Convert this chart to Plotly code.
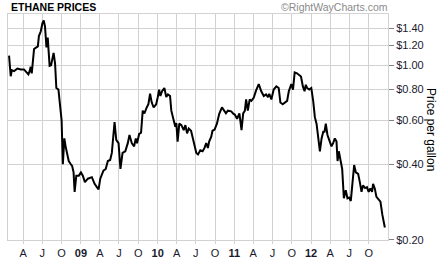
import plotly.graph_objects as go

dates = [
    "2008-01-25", "2008-02-02", "2008-02-07", "2008-02-18", "2008-03-05", "2008-03-21",
    "2008-04-05", "2008-04-13", "2008-04-26", "2008-05-02", "2008-05-07", "2008-05-12",
    "2008-05-23", "2008-06-03", "2008-06-10", "2008-06-15", "2008-06-24", "2008-07-02",
    "2008-07-08", "2008-07-14", "2008-07-21", "2008-07-27", "2008-07-30", "2008-08-05",
    "2008-08-12", "2008-08-18", "2008-08-24", "2008-08-31", "2008-09-06", "2008-09-16",
    "2008-09-23", "2008-10-01", "2008-10-07", "2008-10-14", "2008-10-20", "2008-10-28",
    "2008-11-04", "2008-11-14", "2008-11-20", "2008-11-27", "2008-12-02", "2008-12-10",
    "2008-12-22", "2009-01-01", "2009-01-10", "2009-01-20", "2009-02-03", "2009-02-22",
    "2009-03-07", "2009-03-18", "2009-03-26", "2009-04-03", "2009-04-18", "2009-04-29",
    "2009-05-09", "2009-05-20", "2009-05-28", "2009-06-10", "2009-06-18", "2009-06-29",
    "2009-07-08", "2009-07-18", "2009-07-31", "2009-08-12", "2009-08-20", "2009-08-31",
    "2009-09-11", "2009-09-19", "2009-09-25", "2009-10-05", "2009-10-14", "2009-10-22",
    "2009-10-30", "2009-11-10", "2009-11-18", "2009-11-26", "2009-12-04", "2009-12-13",
    "2009-12-25", "2010-01-01", "2010-01-08", "2010-01-14", "2010-01-22", "2010-02-02",
    "2010-02-11", "2010-02-19", "2010-03-01", "2010-03-07", "2010-03-18", "2010-03-26",
    "2010-03-31", "2010-04-06", "2010-04-14", "2010-04-24", "2010-05-05", "2010-05-13",
    "2010-05-21", "2010-05-29", "2010-06-09", "2010-06-17", "2010-06-26", "2010-07-04",
    "2010-07-12", "2010-07-23", "2010-08-03", "2010-08-12", "2010-08-20", "2010-08-28",
    "2010-09-03", "2010-09-13", "2010-09-19", "2010-09-29", "2010-10-10", "2010-10-21",
    "2010-11-03", "2010-11-14", "2010-11-22", "2010-12-01", "2010-12-17", "2010-12-28",
    "2011-01-03", "2011-01-14", "2011-01-25", "2011-02-04", "2011-02-12", "2011-02-20",
    "2011-02-26", "2011-03-06", "2011-03-15", "2011-03-23", "2011-04-03", "2011-04-14",
    "2011-04-27", "2011-05-09", "2011-05-21", "2011-06-01", "2011-06-10", "2011-06-16",
    "2011-06-26", "2011-07-07", "2011-07-20", "2011-07-31", "2011-08-08", "2011-08-19",
    "2011-08-31", "2011-09-09", "2011-09-17", "2011-09-29", "2011-10-07", "2011-10-15",
    "2011-10-26", "2011-11-06", "2011-11-14", "2011-11-23", "2011-12-01", "2011-12-07",
    "2011-12-13", "2011-12-23", "2012-01-02", "2012-01-11", "2012-01-19", "2012-01-27",
    "2012-02-04", "2012-02-12", "2012-02-20", "2012-02-28", "2012-03-05", "2012-03-11",
    "2012-03-19", "2012-03-27", "2012-04-07", "2012-04-15", "2012-04-23", "2012-05-01",
    "2012-05-06", "2012-05-12", "2012-05-20", "2012-05-28", "2012-06-05", "2012-06-14",
    "2012-06-22", "2012-06-30", "2012-07-08", "2012-07-16", "2012-07-24", "2012-08-01",
    "2012-08-12", "2012-08-20", "2012-08-28", "2012-09-04", "2012-09-14", "2012-09-23",
    "2012-10-01", "2012-10-09", "2012-10-17", "2012-10-22", "2012-10-30", "2012-11-07",
    "2012-11-16", "2012-11-26", "2012-12-05", "2012-12-11", "2012-12-17",
]

prices = [
    1.092, 0.902, 0.954, 0.946, 0.969, 0.961,
    0.961, 0.941, 0.918, 0.946, 0.984, 0.927,
    1.160, 1.177, 1.188, 1.307, 1.366, 1.474,
    1.508, 1.429, 1.177, 1.288, 1.195, 0.993,
    0.998, 1.060, 1.119, 1.014, 0.810, 0.798,
    0.708, 0.601, 0.401, 0.509, 0.473, 0.439,
    0.413, 0.401, 0.395, 0.372, 0.311, 0.361,
    0.361, 0.372, 0.361, 0.340, 0.351, 0.356,
    0.335, 0.325, 0.318, 0.351, 0.378, 0.384,
    0.413, 0.417, 0.445, 0.592, 0.502, 0.487,
    0.384, 0.445, 0.452, 0.487, 0.525, 0.487,
    0.473, 0.509, 0.487, 0.530, 0.536, 0.657,
    0.641, 0.677, 0.697, 0.768, 0.708, 0.677,
    0.697, 0.740, 0.798, 0.752, 0.786, 0.810,
    0.745, 0.763, 0.752, 0.657, 0.592, 0.566,
    0.586, 0.494, 0.583, 0.575, 0.549, 0.575,
    0.533, 0.557, 0.546, 0.509, 0.473, 0.445,
    0.439, 0.456, 0.452, 0.466, 0.487, 0.466,
    0.494, 0.517, 0.546, 0.552, 0.583, 0.638,
    0.677, 0.657, 0.641, 0.657, 0.653, 0.638,
    0.634, 0.610, 0.641, 0.549, 0.641, 0.657,
    0.729, 0.657, 0.729, 0.719, 0.740, 0.790,
    0.839, 0.786, 0.752, 0.763, 0.745, 0.768,
    0.729, 0.798, 0.822, 0.810, 0.708, 0.697,
    0.708, 0.719, 0.786, 0.839, 0.798, 0.935,
    0.927, 0.913, 0.900, 0.822, 0.786, 0.834,
    0.810, 0.798, 0.810, 0.719, 0.619, 0.583,
    0.517, 0.452, 0.509, 0.541, 0.541, 0.583,
    0.525, 0.502, 0.473, 0.487, 0.509, 0.494,
    0.413, 0.452, 0.420, 0.384, 0.293, 0.316,
    0.293, 0.295, 0.286, 0.340, 0.398, 0.372,
    0.367, 0.340, 0.311, 0.330, 0.322, 0.325,
    0.311, 0.321, 0.311, 0.335, 0.321, 0.297,
    0.291, 0.284, 0.252, 0.234, 0.224,
]

x_tick_dates = [
    "2008-04-01", "2008-07-01", "2008-10-01", "2009-01-01",
    "2009-04-01", "2009-07-01", "2009-10-01", "2010-01-01",
    "2010-04-01", "2010-07-01", "2010-10-01", "2011-01-01",
    "2011-04-01", "2011-07-01", "2011-10-01", "2012-01-01",
    "2012-04-01", "2012-07-01", "2012-10-01",
]
x_tick_labels = [
    "A", "J", "O", "<b>09</b>", "A", "J", "O", "<b>10</b>",
    "A", "J", "O", "<b>11</b>", "A", "J", "O", "<b>12</b>",
    "A", "J", "O",
]
y_tick_values = [0.2, 0.4, 0.6, 0.8, 1.0, 1.2, 1.4]
y_tick_labels = ["$0.20", "$0.40", "$0.60", "$0.80", "$1.00", "$1.20", "$1.40"]

grid = "#d2d2d2"
font = "Liberation Sans, Arial, sans-serif"

fig = go.Figure()
fig.add_trace(go.Scatter(
    x=dates, y=prices, mode="lines",
    line=dict(color="#000000", width=2),
    hoverinfo="skip", showlegend=False,
))

fig.update_layout(
    width=443, height=266,
    margin=dict(l=7, r=55, t=14, b=19),
    paper_bgcolor="white", plot_bgcolor="white",
    font=dict(family=font, size=11, color="#1a1a2e"),
    xaxis=dict(
        type="date",
        range=["2008-01-20", "2013-01-01"],
        tickmode="array", tickvals=x_tick_dates, ticktext=x_tick_labels,
        showgrid=True, gridcolor=grid, gridwidth=1,
        showline=True, linecolor=grid, linewidth=1, mirror=True,
        ticks="outside", ticklen=3, tickcolor=grid,
        tickfont=dict(size=11, family=font, color="#1a1a2e"),
        zeroline=False, fixedrange=True,
    ),
    yaxis=dict(
        type="log", side="right",
        range=[-0.7, 0.2045],
        tickmode="array", tickvals=y_tick_values, ticktext=y_tick_labels,
        showgrid=True, gridcolor=grid, gridwidth=1,
        showline=True, linecolor=grid, linewidth=1, mirror=True,
        ticks="outside", ticklen=5, tickcolor="#808080",
        tickfont=dict(size=11, family=font, color="#1a1a2e"),
        zeroline=False, fixedrange=True,
    ),
    annotations=[
        dict(text="ETHANE PRICES", xref="paper", yref="paper", x=0, y=1,
             xanchor="left", yanchor="bottom", yshift=-1, xshift=1, showarrow=False,
             font=dict(size=10.5, family=font, color="#000000", weight="bold")),
        dict(text="©RightWayCharts.com", xref="paper", yref="paper", x=1, y=1,
             xanchor="right", yanchor="bottom", yshift=-1, xshift=2, showarrow=False,
             font=dict(size=10.5, family=font, color="#8a8a8a")),
        dict(text="Price per gallon", xref="paper", yref="paper", x=1, y=0.5,
             xanchor="center", yanchor="middle", xshift=43, yshift=-2,
             textangle=90, showarrow=False,
             font=dict(size=12, family=font, color="#000000")),
    ],
)

fig.write_html("out.html")
